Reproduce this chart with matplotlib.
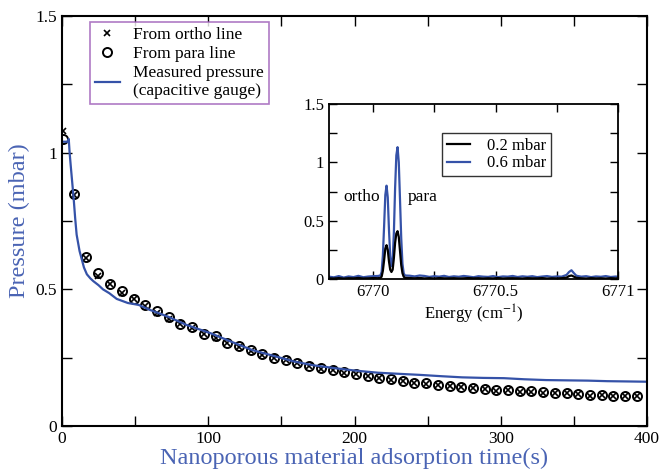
import matplotlib
matplotlib.use('Agg')
import matplotlib.pyplot as plt
from matplotlib.ticker import MultipleLocator, FormatStrFormatter

plt.rcParams['font.family'] = ['Liberation Serif', 'DejaVu Serif']
plt.rcParams['mathtext.fontset'] = 'stix'

# main panel: pressure vs adsorption time
times = [0.5, 8.2, 16.5, 24.6, 32.7, 40.8, 48.9, 57, 65, 73,
         81, 89, 97, 105, 113, 121, 129, 137, 145, 153,
         161, 169, 177, 185, 193, 201, 209, 217, 225, 233,
         241, 249, 257, 265, 273, 281, 289, 297, 305, 313,
         321, 329, 337, 345, 353, 361, 369, 377, 385, 393]
para = [1.05, 0.847, 0.618, 0.559, 0.52, 0.494, 0.466, 0.442, 0.42, 0.398,
        0.374, 0.362, 0.338, 0.328, 0.304, 0.292, 0.278, 0.262, 0.248, 0.243,
        0.231, 0.221, 0.211, 0.205, 0.196, 0.19, 0.183, 0.177, 0.171, 0.164,
        0.159, 0.156, 0.149, 0.147, 0.142, 0.139, 0.134, 0.131, 0.132, 0.127,
        0.127, 0.124, 0.122, 0.12, 0.117, 0.114, 0.115, 0.11, 0.11, 0.11]
ortho = [1.08, 0.845, 0.614, 0.55, 0.518, 0.486, 0.464, 0.44, 0.414, 0.392,
         0.372, 0.36, 0.336, 0.322, 0.302, 0.29, 0.276, 0.26, 0.247, 0.241,
         0.229, 0.219, 0.21, 0.204, 0.195, 0.189, 0.182, 0.176, 0.169, 0.163,
         0.158, 0.155, 0.149, 0.146, 0.141, 0.138, 0.135, 0.128, 0.131, 0.126,
         0.126, 0.12, 0.121, 0.119, 0.116, 0.11, 0.114, 0.108, 0.108, 0.109]

gauge_t = [1, 2, 3, 4, 4.6, 5.2, 6, 7, 8, 9, 10, 11, 12, 13.5, 15, 17, 19.4,
           21.4, 25, 28, 32.3, 37.4, 45, 52.4, 60, 72.5, 85, 101.3, 115, 130,
           145, 158.7, 172, 187.4, 200, 216, 230, 244.8, 260, 273.6, 288,
           302.2, 316, 331, 345, 359.6, 373, 387, 400]
gauge_p = [1.04, 1.04, 1.04, 1.04, 1.05, 1.0, 0.95, 0.89, 0.83, 0.76, 0.70,
           0.67, 0.64, 0.61, 0.58, 0.555, 0.54, 0.53, 0.515, 0.50, 0.486,
           0.465, 0.45, 0.443, 0.425, 0.400, 0.370, 0.340, 0.31, 0.278,
           0.256, 0.236, 0.222, 0.211, 0.203, 0.195, 0.191, 0.187, 0.182,
           0.178, 0.176, 0.175, 0.171, 0.168, 0.167, 0.166, 0.164, 0.163, 0.162]

# inset: absorption spectra
energy = [6769.82, 6769.84, 6769.86, 6769.88, 6769.90, 6769.92, 6769.94, 6769.96,
          6769.98, 6770.00, 6770.02,
          6770.03, 6770.035, 6770.04, 6770.045, 6770.05, 6770.055, 6770.06,
          6770.065, 6770.07, 6770.075, 6770.08, 6770.085, 6770.09, 6770.095,
          6770.10, 6770.105, 6770.11, 6770.115, 6770.12, 6770.125, 6770.13,
          6770.15, 6770.17, 6770.19, 6770.21, 6770.23, 6770.25, 6770.27, 6770.29,
          6770.31, 6770.33, 6770.35, 6770.37, 6770.39, 6770.41, 6770.43, 6770.45,
          6770.47, 6770.49, 6770.51, 6770.53, 6770.55, 6770.57, 6770.59, 6770.61,
          6770.63, 6770.65, 6770.67, 6770.69, 6770.71, 6770.73, 6770.75, 6770.77,
          6770.79, 6770.80, 6770.81, 6770.82, 6770.83,
          6770.85, 6770.87, 6770.89, 6770.91, 6770.93, 6770.95, 6770.97, 6770.99,
          6771.00]
spec_02 = [0.006, 0.004, 0.008, 0.003, 0.007, 0.005, 0.009, 0.004,
           0.006, 0.008, 0.007,
           0.01, 0.02, 0.07, 0.16, 0.26, 0.29, 0.25,
           0.15, 0.08, 0.06, 0.08, 0.18, 0.31, 0.39,
           0.41, 0.36, 0.24, 0.12, 0.05, 0.02, 0.01,
           0.008, 0.006, 0.009, 0.005, 0.007, 0.004, 0.008, 0.006,
           0.005, 0.007, 0.004, 0.006, 0.008, 0.005, 0.007, 0.004,
           0.006, 0.005, 0.008, 0.004, 0.006, 0.007, 0.005, 0.004,
           0.007, 0.006, 0.005, 0.008, 0.004, 0.006, 0.005, 0.007,
           0.012, 0.025, 0.03, 0.02, 0.01,
           0.006, 0.004, 0.007, 0.005, 0.006, 0.004, 0.007, 0.005,
           0.006]
spec_06 = [0.02, 0.014, 0.025, 0.012, 0.022, 0.016, 0.027, 0.015,
           0.021, 0.024, 0.026,
           0.03, 0.06, 0.2, 0.45, 0.72, 0.80, 0.70,
           0.42, 0.2, 0.11, 0.15, 0.4, 0.78, 1.06,
           1.13, 1.0, 0.68, 0.35, 0.13, 0.05, 0.03,
           0.028, 0.022, 0.03, 0.026, 0.018, 0.024, 0.02, 0.027,
           0.017, 0.023, 0.019, 0.026, 0.021, 0.015, 0.024, 0.02,
           0.018, 0.025, 0.016, 0.022, 0.02, 0.026, 0.017, 0.023,
           0.019, 0.024, 0.016, 0.021, 0.025, 0.018, 0.022, 0.02,
           0.035, 0.06, 0.075, 0.05, 0.028,
           0.02, 0.024, 0.016, 0.022, 0.019, 0.025, 0.017, 0.021,
           0.02]

blue = '#3552a8'
label_blue = '#4a64b4'

fig = plt.figure(figsize=(6.59, 4.70), dpi=100)
ax = fig.add_axes([0.0941, 0.0936, 0.8877, 0.8724])

ax.plot(times, ortho, linestyle='none', marker='x', color='black',
        markersize=4, markeredgewidth=1.2, label='From ortho line')
ax.plot(times, para, linestyle='none', marker='o', markerfacecolor='none',
        markeredgecolor='black', markersize=6.5, markeredgewidth=1.4,
        label='From para line')
ax.plot(gauge_t, gauge_p, color=blue, linewidth=1.6,
        label='Measured pressure\n(capacitive gauge)')

ax.set_xlim(0, 400)
ax.set_ylim(0, 1.5)
ax.xaxis.set_major_locator(MultipleLocator(100))
ax.xaxis.set_minor_locator(MultipleLocator(50))
ax.yaxis.set_major_locator(MultipleLocator(0.5))
ax.yaxis.set_minor_locator(MultipleLocator(0.25))
ax.xaxis.set_major_formatter(FormatStrFormatter('%g'))
ax.yaxis.set_major_formatter(FormatStrFormatter('%g'))
ax.tick_params(which='both', direction='in', top=True, right=True,
               labelsize=12.5, width=1, length=7)
for s in ax.spines.values():
    s.set_linewidth(1.5)
ax.set_xlabel('Nanoporous material adsorption time(s)', color=label_blue,
              fontsize=17.5, labelpad=1)
ax.set_ylabel('Pressure (mbar)', color=label_blue, fontsize=17.5, labelpad=4)

leg = ax.legend(loc='upper left', bbox_to_anchor=(0.048, 0.985),
                borderaxespad=0, fontsize=12.5, fancybox=False,
                handlelength=1.4, labelspacing=0.15, handletextpad=0.8,
                borderpad=0.3)
leg.get_frame().set_edgecolor('#9b59b6')
leg.get_frame().set_linewidth(1.2)

# inset
ins = fig.add_axes([0.4992, 0.4064, 0.4386, 0.3723])
ins.plot(energy, spec_06, color=blue, linewidth=1.6, label='0.6 mbar')
ins.plot(energy, spec_02, color='black', linewidth=1.6, label='0.2 mbar')
ins.set_xlim(6769.82, 6771)
ins.set_ylim(0, 1.5)
ins.xaxis.set_major_locator(MultipleLocator(0.5))
ins.xaxis.set_minor_locator(MultipleLocator(0.25))
ins.yaxis.set_major_locator(MultipleLocator(0.5))
ins.yaxis.set_minor_locator(MultipleLocator(0.25))
ins.xaxis.set_major_formatter(FormatStrFormatter('%g'))
ins.yaxis.set_major_formatter(FormatStrFormatter('%g'))
ins.tick_params(which='both', direction='in', top=True, right=True,
                labelsize=12, length=6, width=1)
for s in ins.spines.values():
    s.set_linewidth(1.3)
ins.set_xlabel('Energy (cm$^{-1}$)', fontsize=12, labelpad=2)
ins.text(6770.03, 0.70, 'ortho', fontsize=12.5, ha='right', va='center')
ins.text(6770.14, 0.70, 'para', fontsize=12.5, ha='left', va='center')

h, l = ins.get_legend_handles_labels()
ileg = ins.legend(h[::-1], l[::-1], loc='upper left',
                  bbox_to_anchor=(0.39, 0.836), borderaxespad=0,
                  fontsize=12, fancybox=False, handlelength=1.4,
                  labelspacing=0.1, borderpad=0.3, handletextpad=1.0)
ileg.get_frame().set_edgecolor('black')
ileg.get_frame().set_linewidth(1)

fig.savefig('out.png', dpi=100)
